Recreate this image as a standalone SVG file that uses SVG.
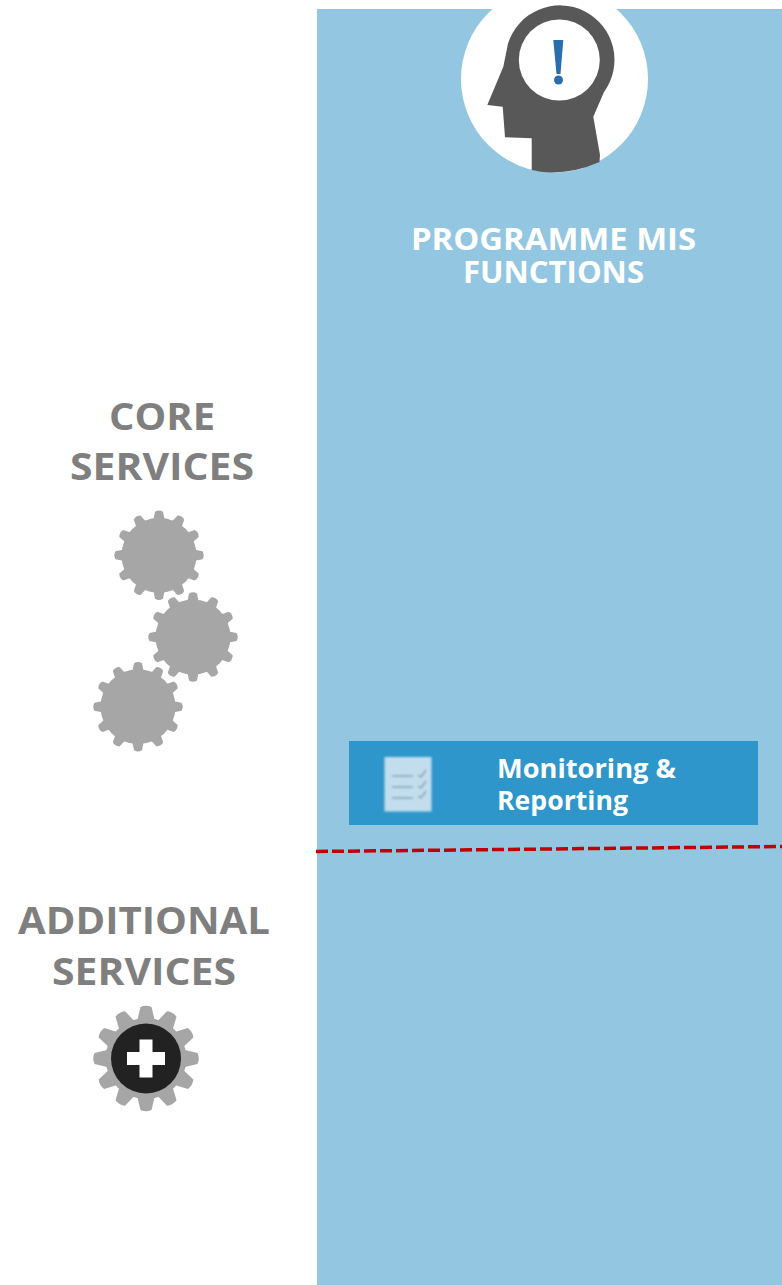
<svg xmlns="http://www.w3.org/2000/svg" width="782" height="1285" viewBox="0 0 782 1285">
<style>
.t{font-family:"Open Sans","Liberation Sans",sans-serif;font-weight:700;text-anchor:middle}
.g{fill:#7f7f7f;font-size:37.500px}
.w{fill:#fff}
.gb{fill:#a6a6a6}
.c{fill:none;stroke:#7f9db0;stroke-width:1.500}
</style>
<defs>
<filter id="soft" x="-10%" y="-10%" width="120%" height="120%"><feGaussianBlur stdDeviation="0.700"/></filter>
<filter id="soft2" x="-10%" y="-10%" width="120%" height="120%"><feGaussianBlur stdDeviation="1"/></filter>
<path id="tooth" class="gb" d="M-5.500 -36L-4 -43.500Q0 -46 4 -43.500L5.500 -36Z"/>
<g id="q1"><use href="#tooth"/><use href="#tooth" transform="rotate(30)"/><use href="#tooth" transform="rotate(60)"/></g>
<g id="gear" filter="url(#soft)">
<circle class="gb" r="37.500"/>
<use href="#q1"/><use href="#q1" transform="rotate(90)"/><use href="#q1" transform="rotate(180)"/><use href="#q1" transform="rotate(270)"/>
</g>
<path id="tooth2" class="gb" d="M-8.500 -39L-5.500 -51.500Q0 -54 5.500 -51.500L8.500 -39Z"/>
<g id="q2"><use href="#tooth2"/><use href="#tooth2" transform="rotate(30)"/><use href="#tooth2" transform="rotate(60)"/></g>
</defs>
<rect width="782" height="1285" fill="#fff"/>
<g id="panel"><rect x="317" y="9" width="465" height="1276" fill="#93c7e1"/></g>
<g id="head-icon" filter="url(#soft)">
<circle cx="554.500" cy="79" r="93.500" fill="#fff"/>
<path d="M531.700 170V138.300L505 137.300L502.700 106.700L487.300 105L503.300 66.700L508 43.500A54.500 54.500 0 1 1 604 92L593.300 116.700L600 155L599.500 162Q575 173 550 172.500Q540 172 531.700 170Z" fill="#595959"/>
<circle cx="559.300" cy="60" r="40.500" fill="#fff"/>
<path d="M553.300 40H563.300L560.500 74H556.500Z" fill="#2a6ead"/>
<circle cx="558.500" cy="80" r="4.500" fill="#2a6ead"/>
</g>
<g id="title">
<text class="t w" x="553.500" y="250" font-size="30" textLength="285" lengthAdjust="spacingAndGlyphs">PROGRAMME MIS</text>
<text class="t w" x="553.500" y="283" font-size="30" textLength="181" lengthAdjust="spacingAndGlyphs">FUNCTIONS</text>
</g>
<g id="core-services">
<text class="t g" x="162" y="430" textLength="106" lengthAdjust="spacingAndGlyphs">CORE</text>
<text class="t g" x="162" y="480" textLength="184" lengthAdjust="spacingAndGlyphs">SERVICES</text>
<use href="#gear" transform="translate(159 555.300)"/>
<use href="#gear" transform="translate(193 637)"/>
<use href="#gear" transform="translate(138 706.700)"/>
</g>
<g id="monitoring-reporting">
<rect x="349" y="741" width="409" height="84" fill="#2e96ca"/>
<g filter="url(#soft2)">
<rect x="384.500" y="757" width="47" height="54.500" fill="#c2deee"/>
<path class="c" d="M392 776H413M392 787H413M392 798H413"/>
<path class="c" d="M418 775L421 777L426 770M418 786L421 788L426 781M418 796L421 798L426 791"/>
</g>
<text class="t w" x="497" y="778" font-size="27" style="text-anchor:start" textLength="179" lengthAdjust="spacingAndGlyphs">Monitoring &amp;</text>
<text class="t w" x="497" y="810" font-size="27" style="text-anchor:start" textLength="131" lengthAdjust="spacingAndGlyphs">Reporting</text>
</g>
<g id="connectors">
<line x1="316" y1="851.500" x2="782" y2="846.500" stroke="#c00000" stroke-width="3.500" stroke-dasharray="12 4"/>
</g>
<g id="additional-services">
<text class="t g" x="144" y="934" textLength="252" lengthAdjust="spacingAndGlyphs">ADDITIONAL</text>
<text class="t g" x="144" y="985" textLength="184" lengthAdjust="spacingAndGlyphs">SERVICES</text>
<g filter="url(#soft)" transform="translate(146 1058.500)">
<circle class="gb" r="40.500"/>
<use href="#q2"/><use href="#q2" transform="rotate(90)"/><use href="#q2" transform="rotate(180)"/><use href="#q2" transform="rotate(270)"/>
<circle r="35" fill="#222"/>
<path d="M-6.500 -19H6.500V-6.500H19V6.500H6.500V19H-6.500V6.500H-19V-6.500H-6.500Z" fill="#fff"/>
</g>
</g>
</svg>
